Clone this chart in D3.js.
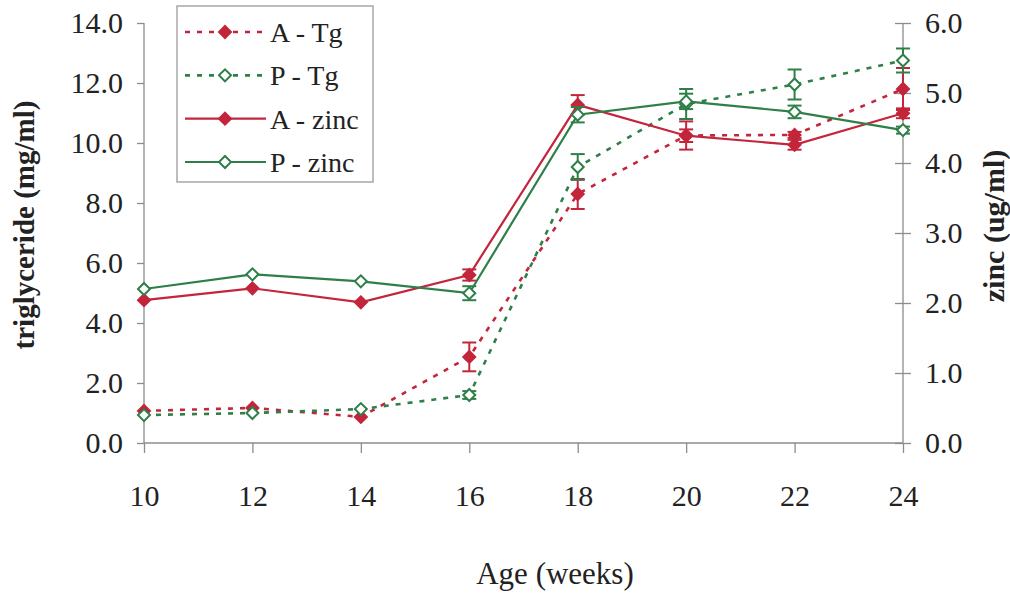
<!DOCTYPE html>
<html><head><meta charset="utf-8">
<script src="https://cdn.jsdelivr.net/npm/d3@7"></script>
<style>body{margin:0;background:#fff}svg{display:block}
text{font-family:"Liberation Serif","Tinos","Times New Roman",Times,"DejaVu Serif",serif}</style>
</head><body>
<svg id="c" width="1010" height="593"></svg>
<script>
const weeks = [10, 12, 14, 16, 18, 20, 22, 24];
const leftTicks = [0, 2, 4, 6, 8, 10, 12, 14];
const rightTicks = [0, 1, 2, 3, 4, 5, 6];
const aTg = [1.07, 1.17, 0.87, 2.87, 8.3, 10.25, 10.27, 11.8];
const aTgErr = [0, 0, 0, 0.48, 0.5, 0.47, 0.1, 0.7];
const pTg = [0.93, 1.0, 1.13, 1.6, 9.2, 11.3, 11.95, 12.75];
const pTgErr = [0, 0, 0, 0.13, 0.43, 0.5, 0.5, 0.4];
const aZn = [2.04, 2.21, 2.01, 2.4, 4.83, 4.39, 4.26, 4.71];
const aZnErr = [0, 0, 0, 0.08, 0.14, 0.09, 0.07, 0.07];
const pZn = [2.2, 2.41, 2.31, 2.14, 4.69, 4.88, 4.73, 4.47];
const pZnErr = [0, 0, 0, 0.1, 0.11, 0.11, 0.09, 0.05];

const RED = "#c3253b", GREEN = "#2e7f48", AX = "#8c8c8c";

const svg = d3.select("#c");
const x = d3.scaleLinear().domain([10, 24]).range([144, 903]);
const yL = d3.scaleLinear().domain([0, 14]).range([443, 23]);
const yR = d3.scaleLinear().domain([0, 6]).range([443, 23]);

// axes
const gL = svg.append("g").attr("transform", "translate(144,0)")
  .call(d3.axisLeft(yL).tickValues(leftTicks).tickFormat(d3.format(".1f")).tickSize(7).tickPadding(14));
const gR = svg.append("g").attr("transform", "translate(903,0)")
  .call(d3.axisRight(yR).tickValues(rightTicks).tickFormat(d3.format(".1f")).tickSize(8).tickPadding(14));
gR.selectAll(".tick line").attr("x1", -8);
const gX = svg.append("g").attr("transform", "translate(0,443)")
  .call(d3.axisBottom(x).tickValues(weeks).tickFormat(d3.format("d")).tickSize(10).tickPadding(32));
[gL, gR, gX].forEach(g => {
  g.attr("font-family", null);
  g.selectAll(".domain").attr("stroke", AX).attr("stroke-width", 1.3);
  g.selectAll(".tick line").attr("stroke", AX).attr("stroke-width", 1.3);
  g.selectAll("text").attr("font-size", 30).attr("fill", "#222");
});
gL.select(".domain").attr("d", "M0,443V23");
gR.select(".domain").attr("d", "M0,443V23");
gX.select(".domain").attr("d", "M144,0H903");

// titles
svg.append("text").attr("transform", "translate(34,225) rotate(-90)").attr("text-anchor", "middle")
  .attr("font-size", 29).attr("font-weight", "bold").attr("fill", "#222")
  .text("triglyceride (mg/ml)");
svg.append("text").attr("transform", "translate(1004,226) rotate(-90)").attr("text-anchor", "middle")
  .attr("font-size", 30).attr("font-weight", "bold").attr("fill", "#222")
  .text("zinc (ug/ml)");
svg.append("text").attr("x", 555).attr("y", 584).attr("text-anchor", "middle")
  .attr("font-size", 31).attr("fill", "#222").text("Age (weeks)");

const series = [
  {name: "A - Tg", vals: aTg, err: aTgErr, y: yL, color: RED, dash: "5,7", filled: true},
  {name: "P - Tg", vals: pTg, err: pTgErr, y: yL, color: GREEN, dash: "5,7", filled: false},
  {name: "A - zinc", vals: aZn, err: aZnErr, y: yR, color: RED, dash: null, filled: true},
  {name: "P - zinc", vals: pZn, err: pZnErr, y: yR, color: GREEN, dash: null, filled: false},
];

const diamond = d3.symbol().type(d3.symbolSquare).size(72);

series.forEach(s => {
  const pts = weeks.map((w, i) => ({w, v: s.vals[i], e: s.err[i]}));
  const g = svg.append("g");
  g.append("path").datum(pts)
    .attr("d", d3.line().x(d => x(d.w)).y(d => s.y(d.v)))
    .attr("fill", "none").attr("stroke", s.color).attr("stroke-width", s.dash ? 2.6 : 2.2)
    .attr("stroke-dasharray", s.dash);
  const eb = g.selectAll(".eb").data(pts.filter(d => d.e > 0)).enter().append("g");
  eb.append("line").attr("x1", d => x(d.w)).attr("x2", d => x(d.w))
    .attr("y1", d => s.y(d.v - d.e)).attr("y2", d => s.y(d.v + d.e))
    .attr("stroke", s.color).attr("stroke-width", 2);
  [-1, 1].forEach(sg => {
    eb.append("line").attr("x1", d => x(d.w) - 7).attr("x2", d => x(d.w) + 7)
      .attr("y1", d => s.y(d.v + sg * d.e)).attr("y2", d => s.y(d.v + sg * d.e))
      .attr("stroke", s.color).attr("stroke-width", 2);
  });
  g.selectAll(".m").data(pts).enter().append("path")
    .attr("transform", d => `translate(${x(d.w)},${s.y(d.v)}) rotate(45)`)
    .attr("d", diamond)
    .attr("fill", s.filled ? s.color : "#fff").attr("stroke", s.color).attr("stroke-width", 2);
});

// legend
const lg = svg.append("g");
lg.append("rect").attr("x", 177).attr("y", 6).attr("width", 196).attr("height", 176)
  .attr("fill", "#fff").attr("stroke", "#9a9a9a").attr("stroke-width", 1.3);
const rowY = d3.scalePoint().domain(series.map(s => s.name)).range([32, 162]);
series.forEach(s => {
  const yy = rowY(s.name);
  lg.append("line").attr("x1", 185).attr("x2", 266).attr("y1", yy).attr("y2", yy)
    .attr("stroke", s.color).attr("stroke-width", s.dash ? 2.6 : 2.2).attr("stroke-dasharray", s.dash);
  lg.append("path").attr("transform", `translate(225,${yy}) rotate(45)`).attr("d", diamond)
    .attr("fill", s.filled ? s.color : "#fff").attr("stroke", s.color).attr("stroke-width", 2);
  lg.append("text").attr("x", 270).attr("y", yy + 10).attr("font-size", 28)
    .attr("fill", "#222").text(s.name);
});
</script>
</body></html>
